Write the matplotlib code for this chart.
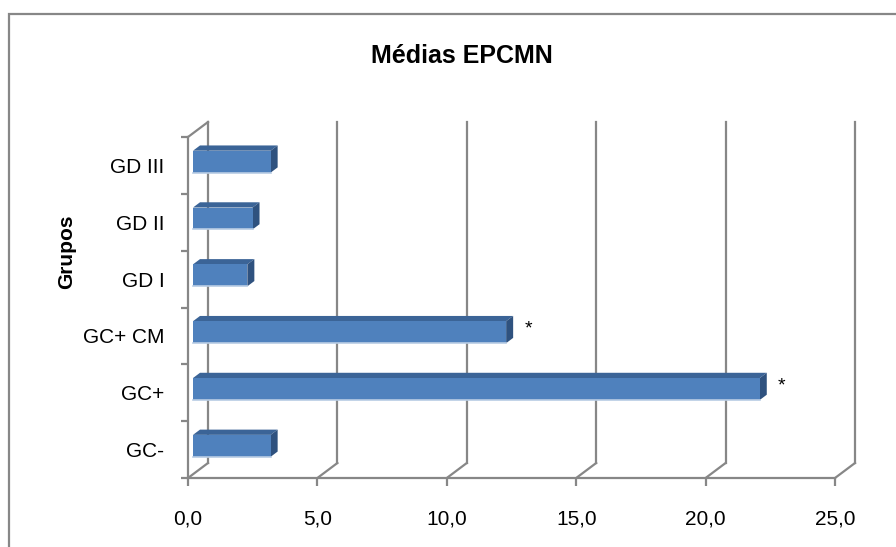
import matplotlib
matplotlib.use('Agg')
import matplotlib.pyplot as plt
from matplotlib.patches import Polygon, Rectangle

plt.rcParams['font.family'] = ['Liberation Sans', 'DejaVu Sans']

# ====== dados ======
grupos = ['GC-', 'GC+', 'GC+ CM', 'GD I', 'GD II', 'GD III']
medias = [3.0, 21.9, 12.1, 2.1, 2.3, 3.0]
marcas = ['', '*', '*', '', '', '']
xticks = [0, 5, 10, 15, 20, 25]
xlabels = ['0,0', '5,0', '10,0', '15,0', '20,0', '25,0']

# ====== cores / estilo ======
cinza = '#878787'
azul_frente = '#4f81bd'
azul_topo = '#3b6497'
azul_lado = '#2f527f'

W, H = 896, 547
fig = plt.figure(figsize=(W / 100, H / 100), dpi=100)

# moldura externa do gráfico
fig.patches.append(Rectangle((9 / W, -0.1), 1.2, 1.1 - 14 / H,
                             transform=fig.transFigure, fill=False,
                             edgecolor=cinza, linewidth=1.6))

# plano frontal: x de 188 a 835 px, y de 478 a 137 px
ax = fig.add_axes([188 / W, (H - 478) / H, 647 / W, 341 / H])
ax.set_xlim(0, 25)
ax.set_ylim(0, len(grupos))

# profundidade (perspectiva 3D), em unidades de dados
DX = 20 / (647 / 25)
DY = 15 / (341 / len(grupos))


def P(x, y, d):
    return (x + d * DX, y + d * DY)


lw = 1.6
ymax = len(grupos)
# paredes: diagonais do piso e linhas verticais do fundo
for x in xticks:
    ax.plot(*zip(P(x, 0, 0), P(x, 0, 1)), color=cinza, lw=lw, clip_on=False, zorder=1)
    ax.plot(*zip(P(x, 0, 1), P(x, ymax, 1)), color=cinza, lw=lw, clip_on=False, zorder=1)
ax.plot(*zip(P(0, ymax, 0), P(0, ymax, 1)), color=cinza, lw=lw, clip_on=False, zorder=1)

# barras 3D
h = 0.193
d0, d1 = 0.25, 0.6
for i, v in enumerate(medias):
    yc = i + 0.5
    frente = [P(0, yc - h, d0), P(v, yc - h, d0), P(v, yc + h, d0), P(0, yc + h, d0)]
    topo = [P(0, yc + h, d0), P(v, yc + h, d0), P(v, yc + h, d1), P(0, yc + h, d1)]
    lado = [P(v, yc - h, d0), P(v, yc - h, d1), P(v, yc + h, d1), P(v, yc + h, d0)]
    ax.add_patch(Polygon(topo, closed=True, facecolor=azul_topo, edgecolor='none',
                         clip_on=False, zorder=3))
    ax.add_patch(Polygon(lado, closed=True, facecolor=azul_lado, edgecolor='none',
                         clip_on=False, zorder=3))
    ax.add_patch(Polygon(frente, closed=True, facecolor=azul_frente, edgecolor='none',
                         clip_on=False, zorder=4))
    ax.plot(*zip(P(0, yc - h, d0), P(v, yc - h, d0)), color='#b8cce4', lw=1.2,
            clip_on=False, zorder=5)
    if marcas[i]:
        ax.text(v + 1.05, yc + 0.12, marcas[i], ha='center', va='center',
                fontsize=14, color='black', zorder=6)

# eixos
for s in ['top', 'right']:
    ax.spines[s].set_visible(False)
for s in ['left', 'bottom']:
    ax.spines[s].set_color(cinza)
    ax.spines[s].set_linewidth(lw)

ax.set_xticks(xticks)
ax.set_xticklabels(xlabels, fontsize=15)
ax.tick_params(axis='x', length=6, width=lw, color=cinza, pad=17)

ax.set_yticks(range(len(grupos) + 1))
ax.set_yticklabels([])
ax.set_yticks([i + 0.5 for i in range(len(grupos))], minor=True)
ax.set_yticklabels(grupos, minor=True, fontsize=15)
ax.tick_params(axis='y', which='major', length=5, width=lw, color=cinza)
ax.tick_params(axis='y', which='minor', length=0, pad=17)

fig.text(462 / W, 1 - 56 / H, 'Médias EPCMN', ha='center', va='center',
         fontsize=18, fontweight='bold')
fig.text(67 / W, 1 - 252 / H, 'Grupos', ha='center', va='center',
         rotation=90, fontsize=15, fontweight='bold')

plt.savefig('out.png', dpi=100)
plt.close()
